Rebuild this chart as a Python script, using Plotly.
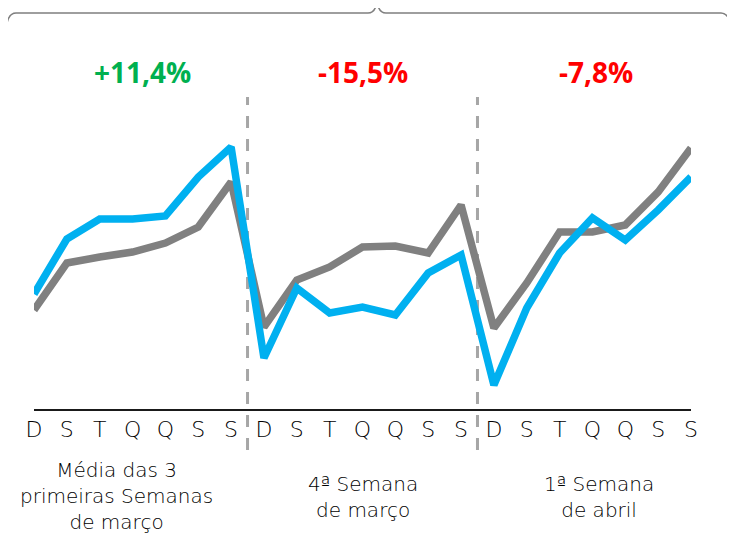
import plotly.graph_objects as go

days = ["D", "S", "T", "Q", "Q", "S", "S"]
tick_labels = days * 3
x_idx = list(range(21))

blue_values = [115, 170, 190, 190, 193, 232, 262,
               51, 121, 96, 102, 94, 136, 154,
               24, 101, 156, 191, 169, 199, 232]
gray_values = [99, 146, 152, 157, 166, 182, 227,
               82, 129, 142, 162, 163, 156, 204,
               81, 126, 177, 177, 184, 217, 261]

group_labels = ["Média das 3<br>primeiras Semanas<br>de março",
                "4ª Semana<br>de março",
                "1ª Semana<br>de abril"]
group_label_x = [2.5, 10, 17.2]
group_label_top_px = [456, 470, 470]

pct_labels = ["+11,4%", "-15,5%", "-7,8%"]
pct_colors = ["#00B050", "#FF0000", "#FF0000"]
pct_x = [3.3, 10, 17.1]
pct_y = 337

dividers = [6.5, 13.5]

FONT = "Open Sans"
LIGHT = "DejaVu Sans"

# reference-pixel -> paper conversions (plot area spans x 34..691, y 9..409)
def px(xp):
    return (xp - 34) / 657

def py(yp):
    return (409 - yp) / 400

fig = go.Figure()
fig.add_trace(go.Scatter(x=x_idx, y=gray_values, mode="lines",
                         line=dict(color="#808080", width=7.5), cliponaxis=False,
                         hoverinfo="skip"))
fig.add_trace(go.Scatter(x=x_idx, y=blue_values, mode="lines",
                         line=dict(color="#00B0F0", width=7.5), cliponaxis=False,
                         hoverinfo="skip"))

for d in dividers:
    fig.add_shape(type="line", xref="x", yref="paper", x0=d, x1=d,
                  y0=py(450), y1=py(97),
                  line=dict(color="#A6A6A6", width=3, dash="12px,11px"),
                  layer="below")

path = (f"M {px(6)},{py(35)} Q {px(6)},{py(13)} {px(16)},{py(13)} "
        f"L {px(368)},{py(13)} Q {px(376)},{py(13)} {px(377)},{py(0)} "
        f"Q {px(378)},{py(13)} {px(386)},{py(13)} "
        f"L {px(721)},{py(13)} Q {px(731)},{py(13)} {px(731)},{py(35)}")
fig.add_shape(type="path", xref="paper", yref="paper", path=path,
              line=dict(color="#7F7F7F", width=1.5))

for t, c, xv in zip(pct_labels, pct_colors, pct_x):
    fig.add_annotation(x=xv, y=pct_y, xref="x", yref="y", text=f"<b>{t}</b>",
                       showarrow=False, font=dict(family=FONT, size=28, color=c))

for t, xv, yp in zip(group_labels, group_label_x, group_label_top_px):
    fig.add_annotation(x=xv, y=py(yp), xref="x", yref="paper", text=t, showarrow=False,
                       yanchor="top", xanchor="center", align="center",
                       font=dict(family=LIGHT, size=20, color="#000000", weight=300))

# page body has an 8px margin, so the figure is 8px smaller and shifted
fig.update_layout(
    width=727, height=525,
    margin=dict(l=26, r=44, t=1, b=124),
    paper_bgcolor="white", plot_bgcolor="white",
    showlegend=False,
    xaxis=dict(range=[0, 20], tickmode="array", tickvals=x_idx, ticktext=tick_labels,
               showgrid=False, zeroline=False, showline=True, linecolor="#1a1a1a",
               linewidth=2, ticks="",
               tickfont=dict(family=LIGHT, size=22, color="#000000", weight=300)),
    yaxis=dict(range=[0, 400], visible=False, showgrid=False, zeroline=False),
)

fig.write_html("out.html")
